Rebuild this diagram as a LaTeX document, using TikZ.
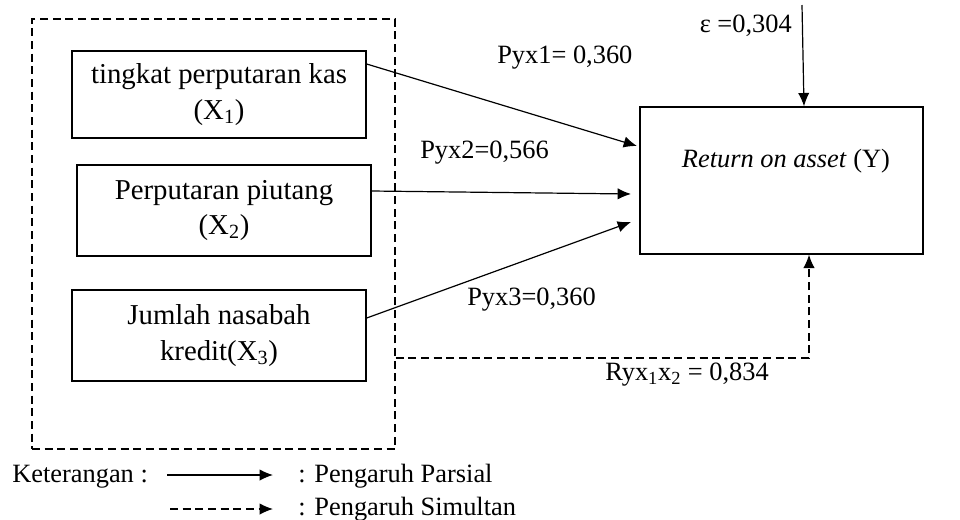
\documentclass[tikz,border=0pt]{standalone}
\usepackage{fontspec}
\setmainfont{Liberation Serif}
\usetikzlibrary{arrows.meta}
\begin{document}
\begin{tikzpicture}[x=0.75pt,y=-0.75pt,
  every node/.style={font=\fontsize{19.8}{26.5}\selectfont},
  varbox/.style={draw,line width=1pt,align=center,inner sep=0pt,minimum width=220.5pt,font=\fontsize{21.6}{26.8}\selectfont},
  lbl/.style={inner sep=0pt},
  conn/.style={line width=0.9pt,-{Latex[length=10pt,width=8.5pt]}},
  dconn/.style={conn,dash pattern=on 6pt off 3.5pt}]
\useasboundingbox (0,0) rectangle (960,519);
% dashed container
\node[draw,dash pattern=on 6pt off 3.5pt,line width=1pt,minimum width=272.25pt,minimum height=322.5pt,inner sep=0pt] (big) at (213.5,234) {};
% variable boxes
\node[varbox,minimum height=65.25pt] (b1) at (219,94.5) {tingkat perputaran kas\\(X\textsubscript{1})};
\node[varbox,minimum height=68.25pt] (b2) at (224,210.5) {Perputaran piutang\\(X\textsubscript{2})};
\node[varbox,minimum height=68.25pt] (b3) at (219,335.5) {Jumlah nasabah\\kredit(X\textsubscript{3})};
\node[draw,line width=1pt,minimum width=212.25pt,minimum height=110.25pt,inner sep=0pt] (yb) at (781.5,180.5) {};
\node[lbl,anchor=base] (ylab) at (786,167) {\textit{Return on asset} (Y)};
% helper coordinates
\coordinate (s1) at (0,64);
\coordinate (s2) at (0,191);
\coordinate (s3) at (0,318);
\coordinate (t1) at (637,146);
\coordinate (t2) at (631,194);
\coordinate (t3) at (631,222);
\coordinate (e0) at (802,5);
\coordinate (e1) at (804,0);
\coordinate (d1) at (809,358);
% partial arrows
\draw[conn] (b1.east |- s1) -- (t1);
\draw[conn] (b2.east |- s2) -- (t2);
\draw[conn] (b3.east |- s3) -- (t3);
\draw[conn] (e0) -- (yb.north -| e1);
% simultaneous arrow
\draw[dconn] (big.east |- d1) -- (d1) -- (d1 |- yb.south);
% labels
\node[lbl,anchor=base east] (eps) at (792,32) {ε =0,304};
\node[lbl,anchor=base west] (p1) at (497,63) {Pyx1= 0,360};
\node[lbl,anchor=base west] (p2) at (420,158) {Pyx2=0,566};
\node[lbl,anchor=base west] (p3) at (467,305) {Pyx3=0,360};
\node[lbl,anchor=base west] (r) at (605,380) {Ryx\textsubscript{1}x\textsubscript{2} = 0,834};
% legend
\node[lbl,anchor=base west] (ket) at (12,482) {Keterangan :};
\coordinate (la0) at (167,475);
\coordinate (la1) at (273,475);
\coordinate (lb0) at (170,509);
\coordinate (lb1) at (273,509);
\draw[conn] (la0) -- (la1);
\draw[dconn] (lb0) -- (lb1);
\node[lbl,anchor=base west] (lp) at (298,482) {: Pengaruh Parsial};
\node[lbl,anchor=base west] (ls) at (298,515) {: Pengaruh Simultan};
\end{tikzpicture}
\end{document}
